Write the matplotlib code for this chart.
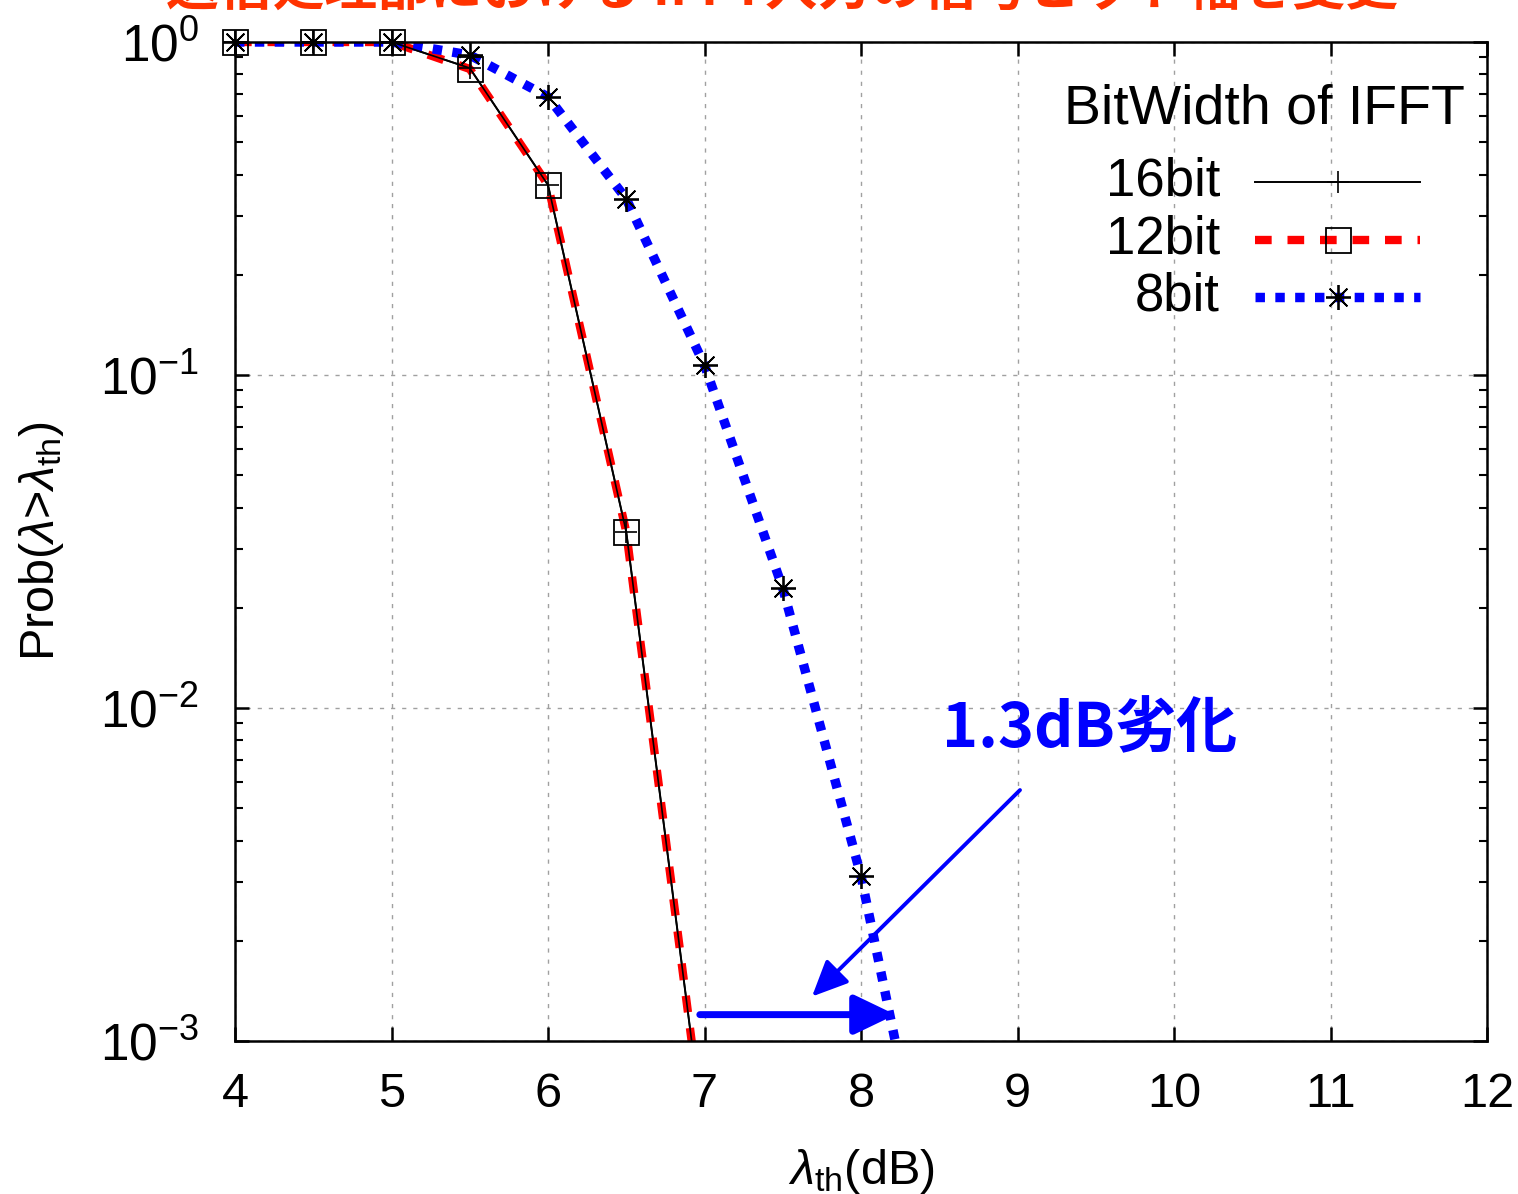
import matplotlib
matplotlib.use("Agg")
import matplotlib.pyplot as plt
from matplotlib.lines import Line2D
from matplotlib.ticker import LogLocator, FixedLocator, NullFormatter

plt.rcParams['font.family'] = ['Liberation Sans', 'DejaVu Sans']
plt.rcParams['mathtext.fontset'] = 'custom'
plt.rcParams['mathtext.rm'] = 'Liberation Sans'
plt.rcParams['mathtext.it'] = 'Liberation Sans:italic'
plt.rcParams['mathtext.bf'] = 'Liberation Sans:bold'
plt.rcParams['axes.unicode_minus'] = False

# ---- data ----
x_16 = [4.0, 4.5, 5.0, 5.5, 6.0, 6.5, 7.0]
p_16 = [1.0, 1.0, 1.0, 0.835, 0.372, 0.0338, 5.0e-4]
x_12 = [4.0, 4.5, 5.0, 5.5, 6.0, 6.5, 7.0]
p_12 = [1.0, 1.0, 1.0, 0.83, 0.372, 0.0338, 5.0e-4]
x_8 = [4.0, 4.5, 5.0, 5.5, 6.0, 6.5, 7.0, 7.5, 8.0, 8.5]
p_8 = [1.0, 1.0, 1.0, 0.914, 0.684, 0.338, 0.107, 0.0229, 0.00313, 2.3e-4]
series_names = ['16bit', '12bit', '8bit']
legend_title = 'BitWidth of IFFT'
xticks = [4, 5, 6, 7, 8, 9, 10, 11, 12]
yticks = [1e-3, 1e-2, 1e-1, 1e0]
ytick_labels = ['$10^{-3}$', '$10^{-2}$', '$10^{-1}$', '$10^{0}$']
annot_text = '1.3dB劣化'
top_title = '送信処理部における IFFT入力の信号ビット幅を変更'

YMIN, YMAX = 1e-3, 1e0

fig = plt.figure(figsize=(15.18, 11.94), dpi=100)
ax = fig.add_axes([235/1518, 1-1041/1194, (1487-235)/1518, (1041-42)/1194])
ax.set_yscale('log')
ax.set_xlim(4, 12)
ax.set_ylim(YMIN, YMAX)

# grid
ax.grid(True, which='major', color='#a0a0a0', linestyle=(0, (3, 5)), linewidth=1.0)
ax.set_axisbelow(True)

# lines
ax.plot(x_16, p_16, color='black', lw=1.4, solid_capstyle='butt', zorder=3)
ax.plot(x_12, p_12, color='#ff0000', lw=6.0, linestyle=(0, (2.0, 1.9)),
        dash_capstyle='butt', zorder=4)
ax.plot(x_8, p_8, color='#0000ff', lw=6.8, linestyle=(0, (1.0, 1.1)),
        dash_capstyle='butt', zorder=5)
ax.plot(x_16, p_16, color='black', lw=1.2, zorder=6)


def visible(xs, ps):
    pts = [(a, b) for a, b in zip(xs, ps) if YMIN <= b <= YMAX]
    return [a for a, _ in pts], [b for _, b in pts]


# markers (only those inside the plotted range; not clipped at the frame)
mx, my = visible(x_16, p_16)
ax.plot(mx, my, linestyle='none', marker='+', ms=16, mew=1.2, color='black',
        zorder=7, clip_on=False)
mx, my = visible(x_12, p_12)
ax.plot(mx, my, linestyle='none', marker='s', ms=18, mew=1.3, mfc='none',
        mec='black', zorder=7, clip_on=False)
mx, my = visible(x_8, p_8)
ax.plot(mx, my, linestyle='none', marker=(8, 2, 0), ms=18, mew=1.3, color='black',
        zorder=7, clip_on=False)

# ticks
ax.xaxis.set_major_locator(FixedLocator(xticks))
ax.set_xticklabels([str(t) for t in xticks])
ax.yaxis.set_major_locator(FixedLocator(yticks))
ax.set_yticklabels(ytick_labels)
ax.yaxis.set_minor_locator(LogLocator(base=10, subs=range(2, 10)))
ax.yaxis.set_minor_formatter(NullFormatter())
ax.tick_params(which='major', direction='in', length=10, width=1.8,
               top=True, right=True, colors='black')
ax.tick_params(axis='x', which='major', pad=22, labelsize=35)
ax.tick_params(axis='y', which='major', pad=26, labelsize=37)
ax.tick_params(which='minor', direction='in', length=6, width=1.5, top=True, right=True)
for s in ax.spines.values():
    s.set_linewidth(1.8)
    s.set_zorder(10)

ax.set_xlabel(r'$\lambda_{\rm th}$(dB)', fontsize=35, labelpad=22)
ax.set_ylabel(r'Prob($\lambda$>$\lambda_{\rm th}$)', fontsize=35, labelpad=24)

# legend (manual)
tr = ax.transAxes
ax.text(0.9824, 0.932, legend_title, transform=tr, ha='right', va='center', fontsize=40, zorder=11)
ys = [0.860, 0.802, 0.745]
styles = [
    dict(color='black', lw=1.4),
    dict(color='#ff0000', lw=6.0, linestyle=(0, (2.0, 1.9)), dash_capstyle='butt'),
    dict(color='#0000ff', lw=6.8, linestyle=(0, (1.0, 1.1)), dash_capstyle='butt'),
]
mk = [dict(marker='+', ms=16, mew=1.2, color='black'),
      dict(marker='s', ms=18, mew=1.3, mfc='none', mec='black'),
      dict(marker=(8, 2, 0), ms=18, mew=1.3, color='black')]
for name, yy, st, m in zip(series_names, ys, styles, mk):
    ax.text(0.7867, yy, name, transform=tr, ha='right', va='center', fontsize=38, zorder=11)
    ax.add_line(Line2D([0.8147, 0.9465], [yy, yy], transform=tr, zorder=11, **st))
    ax.add_line(Line2D([0.881], [yy], transform=tr, linestyle='none', zorder=12, **m))

# annotations
ax.annotate('', xy=(8.22, 1.2e-3), xytext=(6.97, 1.2e-3),
            arrowprops=dict(arrowstyle='-|>,head_length=1.25,head_width=0.6',
                            color='#0000ff', lw=5, mutation_scale=20,
                            shrinkA=0, shrinkB=0), zorder=12)
ax.annotate('', xy=(7.687, 1.36e-3), xytext=(9.016, 5.67e-3),
            arrowprops=dict(arrowstyle='-|>,head_length=1.1,head_width=0.5',
                            color='#0000ff', lw=2.8, mutation_scale=20,
                            shrinkA=0, shrinkB=0), zorder=12)
ax.text(8.52, 8.6e-3, annot_text, ha='left', va='center', fontsize=44,
        fontweight='bold', color='#0000ff', family=['Noto Sans CJK JP', 'DejaVu Sans'], zorder=12)

# title (cut off at the top edge, as in the reference)
fig.text(0.515, 1 - 16/1194, top_title, ha='center', va='bottom', fontsize=38,
         fontweight='bold', color='#ff3300', family=['Noto Sans CJK JP', 'DejaVu Sans'])

fig.savefig('out.png', dpi=100)
